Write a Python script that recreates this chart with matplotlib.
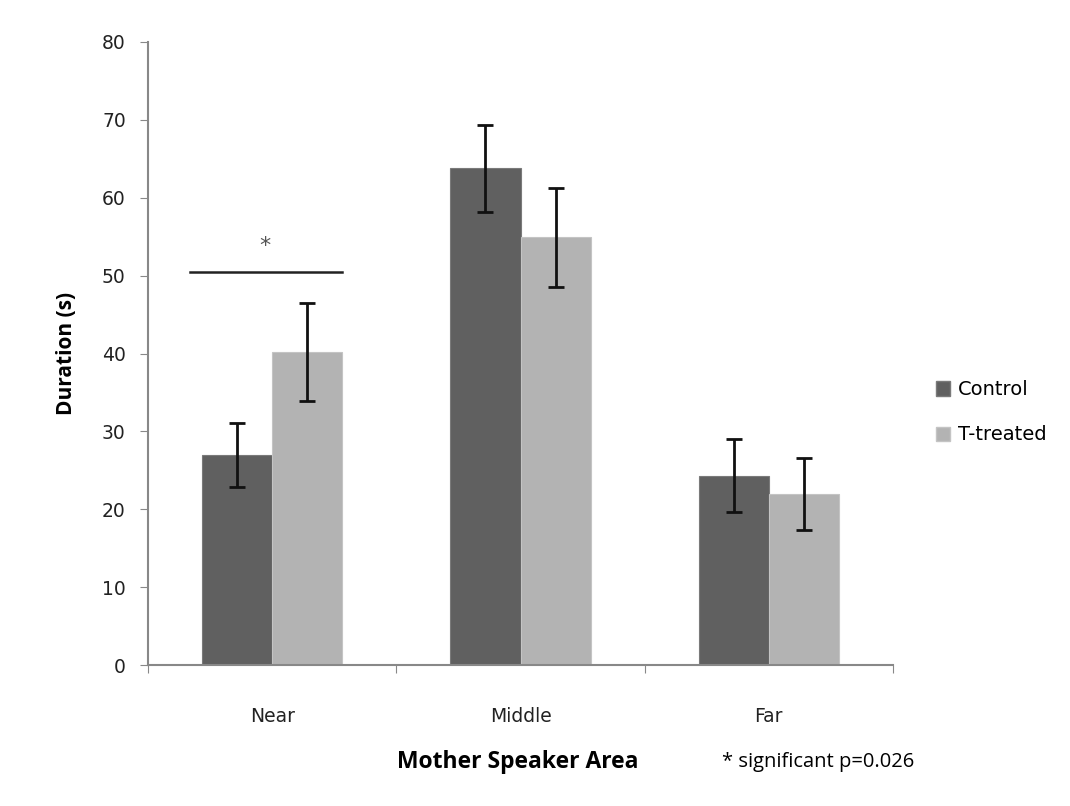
import numpy as np
import matplotlib.pyplot as plt
from matplotlib.patches import Patch

categories = ["Near", "Middle", "Far"]
control = [27.0, 63.8, 24.3]
control_err = [4.1, 5.6, 4.7]
treated = [40.2, 54.9, 22.0]
treated_err = [6.3, 6.3, 4.6]
series_names = ["Control", "T-treated"]

dark = "#606060"
light = "#b3b3b3"
axis_gray = "#888888"

fig = plt.figure(figsize=(10.70, 8.06), dpi=100)
ax = fig.add_axes([0.1383, 0.1749, 0.6963, 0.7730])

x = np.arange(len(categories))
w = 0.283
ax.bar(x - w / 2, control, w, color=dark, edgecolor="#7a7a7a", linewidth=0.8)
ax.bar(x + w / 2, treated, w, color=light, edgecolor="#c4c4c4", linewidth=0.8)
ax.errorbar(x - w / 2, control, yerr=control_err, fmt="none", ecolor="#111111",
            elinewidth=2, capsize=6, capthick=2)
ax.errorbar(x + w / 2, treated, yerr=treated_err, fmt="none", ecolor="#111111",
            elinewidth=2, capsize=6, capthick=2)

# significance bracket over Near
ax.plot([x[0] - 0.33, x[0] + w], [50.5, 50.5], color="#222222", lw=1.8)
ax.text(x[0] - 0.03, 53.8, "*", ha="center", va="center", fontsize=16, color="#555555")

ax.set_xlim(-0.5, 2.5)
ax.set_ylim(0, 80)
ax.set_yticks(range(0, 81, 10))
ax.set_xticks([-0.5, 0.5, 1.5, 2.5])
ax.set_xticklabels([])
ax.set_xticks(x, minor=True)
ax.set_xticklabels(categories, minor=True)
ax.tick_params(axis="x", which="minor", length=0, pad=30, labelsize=13.5, labelcolor="#222222")
ax.tick_params(axis="x", which="major", length=6, direction="out", color=axis_gray)
ax.tick_params(axis="y", length=6, direction="out", color=axis_gray, labelsize=13.5,
               labelcolor="#222222", pad=10)

for s in ["top", "right"]:
    ax.spines[s].set_visible(False)
ax.spines["left"].set_color(axis_gray)
ax.spines["bottom"].set_color(axis_gray)
ax.spines["left"].set_linewidth(1.5)
ax.spines["bottom"].set_linewidth(1.5)

ax.set_ylabel("Duration (s)", fontsize=15, fontweight="bold", family="Open Sans", labelpad=18)
fig.text(518 / 1070, 1 - 762 / 806, "Mother Speaker Area", ha="center", va="center",
         fontsize=16.5, fontweight="bold", family="Open Sans")
fig.text(722 / 1070, 1 - 762 / 806, "* significant p=0.026", ha="left", va="center",
         fontsize=14.5, family="Open Sans")

handles = [Patch(facecolor=dark, edgecolor="#7a7a7a"), Patch(facecolor=light, edgecolor="#c4c4c4")]
fig.legend(handles, series_names, loc="upper left", bbox_to_anchor=(0.858, 0.55),
           frameon=False, fontsize=14, handlelength=0.75, handleheight=0.75,
           handletextpad=0.4, labelspacing=1.35)

fig.savefig("out.png", dpi=100)
